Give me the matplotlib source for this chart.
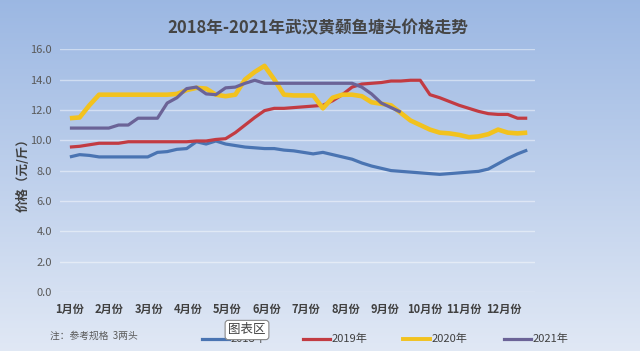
import numpy as np
import matplotlib
matplotlib.use("Agg")
import matplotlib.pyplot as plt
from matplotlib.lines import Line2D

plt.rcParams['font.family'] = ['Noto Sans CJK SC', 'DejaVu Sans']

# weekly prices (元/斤), 48 weeks
months = ["1月份", "2月份", "3月份", "4月份", "5月份", "6月份",
          "7月份", "8月份", "9月份", "10月份", "11月份", "12月份"]

p2018 = [8.9, 9.05, 9.0, 8.9, 8.9, 8.9, 8.9, 8.9, 8.9, 9.2, 9.25, 9.4,
         9.45, 9.9, 9.75, 9.95, 9.75, 9.65, 9.55, 9.5, 9.45, 9.45, 9.35, 9.3,
         9.2, 9.1, 9.2, 9.05, 8.9, 8.75, 8.5, 8.3, 8.15, 8.0, 7.95, 7.9,
         7.85, 7.8, 7.75, 7.8, 7.85, 7.9, 7.95, 8.1, 8.45, 8.8, 9.1, 9.35]
p2019 = [9.55, 9.6, 9.7, 9.8, 9.8, 9.8, 9.9, 9.9, 9.9, 9.9, 9.9, 9.9,
         9.9, 9.95, 9.95, 10.05, 10.1, 10.5, 11.0, 11.5, 11.95, 12.1, 12.1, 12.15,
         12.2, 12.25, 12.3, 12.6, 13.0, 13.5, 13.7, 13.75, 13.8, 13.9, 13.9, 13.95,
         13.95, 13.0, 12.8, 12.55, 12.3, 12.1, 11.9, 11.75, 11.7, 11.7, 11.45, 11.45]
p2020 = [11.45, 11.5, 12.3, 13.0, 13.0, 13.0, 13.0, 13.0, 13.0, 13.0, 13.0, 13.05,
         13.3, 13.45, 13.4, 13.0, 12.9, 13.0, 14.0, 14.5, 14.9, 14.0, 13.0, 12.95,
         12.95, 12.95, 12.1, 12.8, 13.0, 13.0, 12.9, 12.5, 12.4, 12.3, 11.8, 11.3,
         11.0, 10.7, 10.5, 10.45, 10.35, 10.2, 10.25, 10.4, 10.7, 10.5, 10.45, 10.5]
p2021 = [10.8, 10.8, 10.8, 10.8, 10.8, 11.0, 11.0, 11.45, 11.45, 11.45, 12.45, 12.8,
         13.4, 13.5, 13.05, 13.0, 13.45, 13.5, 13.75, 13.95, 13.75, 13.75, 13.75, 13.75,
         13.75, 13.75, 13.75, 13.75, 13.75, 13.75, 13.5, 13.05, 12.45, 12.15, 11.85]

years = ["2018年", "2019年", "2020年", "2021年"]
colors = ["#4a74b2", "#c23b42", "#f2c21e", "#6b6397"]
widths = [2.3, 2.3, 3.3, 2.3]
series = [p2018, p2019, p2020, p2021]

fig = plt.figure(figsize=(6.4, 3.51), dpi=100)

# gradient background
bg = fig.add_axes([0, 0, 1, 1], zorder=0)
top = np.array([0.61, 0.72, 0.89])
bot = np.array([0.88, 0.91, 0.96])
t = np.linspace(0, 1, 256)[:, None]
grad = top * (1 - t) + bot * t
bg.imshow(grad[:, None, :].repeat(2, axis=1), aspect='auto', extent=[0, 1, 0, 1])
bg.axis('off')

ax = fig.add_axes([0.094, 0.168, 0.742, 0.692], zorder=1)
ax.patch.set_alpha(0)
for s in ax.spines.values():
    s.set_visible(False)

for vals, c, lw in zip(series, colors, widths):
    ax.plot(np.arange(len(vals)), vals, color=c, lw=lw, solid_joinstyle='round',
            solid_capstyle='butt', clip_on=False)

ax.set_ylim(0, 16)
ax.set_xlim(-1.0, 47.8)
ax.set_yticks(np.arange(0, 16.1, 2))
ax.set_yticklabels([f"{v:.1f}" for v in np.arange(0, 16.1, 2)])
ax.yaxis.grid(True, color='white', lw=1.0, alpha=0.45)
ax.set_axisbelow(True)
ax.set_xticks(np.arange(12) * 4.05)
ax.set_xticklabels(months, fontweight='bold')
ax.tick_params(axis='y', length=0, labelsize=8, labelcolor='#595959', pad=6)
ax.tick_params(axis='x', length=0, labelsize=8, labelcolor='#404040', pad=8)

fig.text(0.497, 1 - 28 / 351, "2018年-2021年武汉黄颡鱼塘头价格走势",
         ha='center', va='center', fontsize=12, fontweight='bold', color='#454545')
fig.text(23 / 640, 1 - 172 / 351, "价格（元/斤）", rotation=90, ha='center',
         va='center', fontsize=9, fontweight='bold', color='#404040')
fig.text(50 / 640, 1 - 336 / 351, "注：参考规格  3两头", ha='left', va='center',
         fontsize=7, color='#595959')

# legend
ly = 1 - 339 / 351
for i, (name, c, lw) in enumerate(zip(years, colors, widths)):
    x0 = (202 + i * 100.5) / 640
    fig.add_artist(Line2D([x0, x0 + 27 / 640], [ly, ly], color=c, lw=min(lw, 2.8)))
    fig.text(x0 + 29 / 640, ly, name, ha='left', va='center', fontsize=8,
             color='#404040')

# "图表区" tooltip box sitting over the first legend entry
fig.text(247 / 640, 1 - 330 / 351, "图表区", ha='center', va='center', fontsize=9,
         color='#404040', zorder=5,
         bbox=dict(boxstyle='round,pad=0.25', fc='white', ec='#888888', lw=0.8))

fig.savefig("out.png", dpi=100)
